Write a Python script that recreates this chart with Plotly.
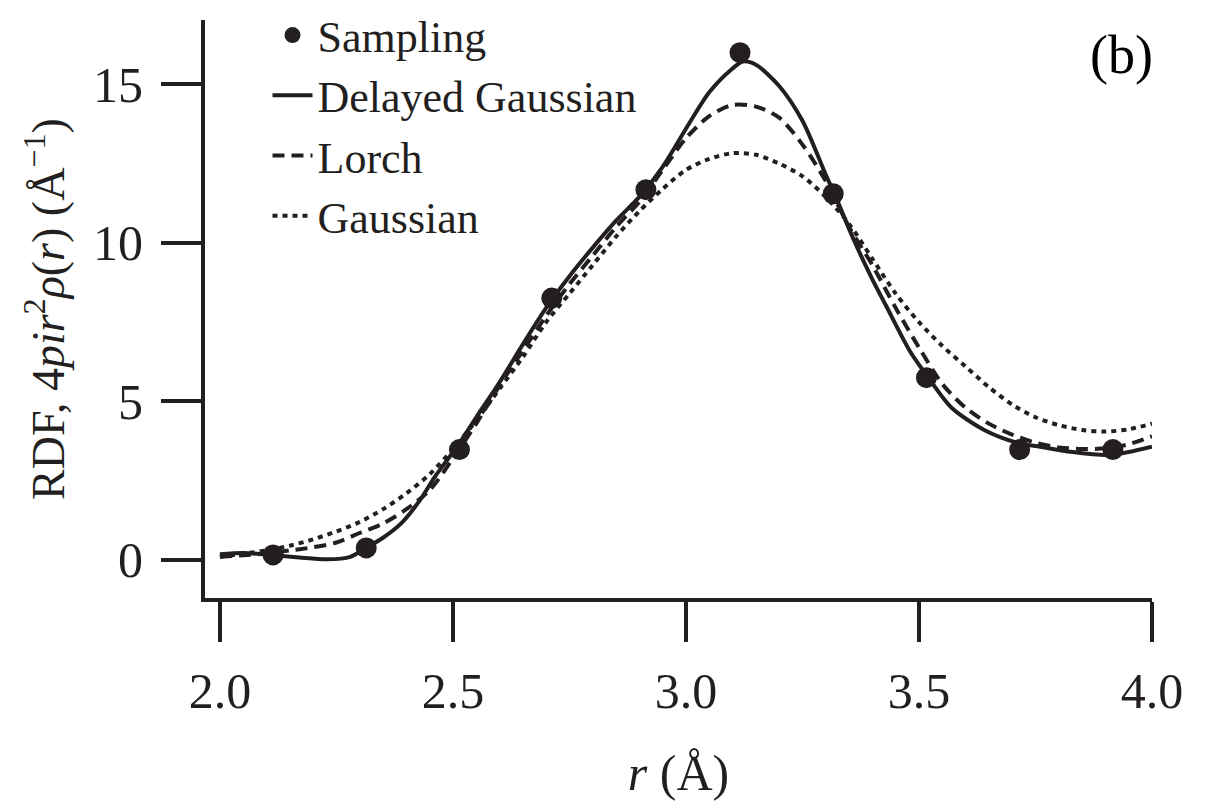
import plotly.graph_objects as go

# Sampling points
r_samp = [2.114, 2.314, 2.514, 2.712, 2.914, 3.116, 3.316, 3.516, 3.716, 3.916]
v_samp = [0.16, 0.38, 3.48, 8.26, 11.68, 16.0, 11.55, 5.75, 3.48, 3.48]

# Delayed Gaussian (solid)
r_dg = [2.0, 2.05, 2.11, 2.17, 2.23, 2.28, 2.31, 2.35, 2.39, 2.43, 2.46, 2.51, 2.55, 2.6,
        2.65, 2.7, 2.75, 2.8, 2.85, 2.9, 2.95, 3.0, 3.05, 3.1, 3.122, 3.15, 3.2, 3.25,
        3.3, 3.32, 3.36, 3.4, 3.43, 3.48, 3.52, 3.57, 3.64, 3.71, 3.76, 3.82, 3.91, 4.0]
v_dg = [0.18, 0.22, 0.16, 0.08, 0.02, 0.1, 0.35, 0.7, 1.17, 1.9, 2.6, 3.6, 4.5, 5.6,
        6.8, 7.95, 8.95, 9.85, 10.7, 11.45, 12.4, 13.6, 14.75, 15.5, 15.72, 15.62, 14.95, 13.85,
        12.15, 11.5, 10.1, 8.85, 8.0, 6.6, 5.75, 4.8, 4.1, 3.7, 3.57, 3.42, 3.31, 3.57]

# Lorch (dashed)
r_lo = [2.0, 2.05, 2.1, 2.15, 2.2, 2.25, 2.3, 2.35, 2.4, 2.45, 2.5, 2.55, 2.6, 2.65, 2.7,
        2.75, 2.8, 2.85, 2.9, 2.95, 3.0, 3.05, 3.1, 3.15, 3.2, 3.25, 3.3, 3.35, 3.4, 3.45,
        3.5, 3.55, 3.6, 3.65, 3.7, 3.75, 3.8, 3.85, 3.9, 3.95, 4.0]
v_lo = [0.1, 0.15, 0.2, 0.3, 0.4, 0.55, 0.85, 1.15, 1.6, 2.2, 3.2, 4.3, 5.5, 6.6, 7.7,
        8.7, 9.6, 10.5, 11.3, 12.3, 13.3, 14.0, 14.35, 14.3, 13.95, 13.1, 11.95, 10.5, 9.3, 7.95,
        6.7, 5.55, 4.8, 4.3, 3.95, 3.7, 3.55, 3.5, 3.52, 3.65, 3.9]

# Gaussian (dotted)
r_ga = [2.0, 2.05, 2.1, 2.15, 2.2, 2.25, 2.3, 2.35, 2.4, 2.45, 2.5, 2.55, 2.6, 2.65, 2.7,
        2.75, 2.8, 2.85, 2.9, 2.95, 3.0, 3.05, 3.1, 3.15, 3.2, 3.25, 3.3, 3.35, 3.4, 3.45,
        3.5, 3.55, 3.6, 3.65, 3.7, 3.75, 3.8, 3.85, 3.9, 3.95, 4.0]
v_ga = [0.1, 0.2, 0.3, 0.45, 0.65, 0.9, 1.2, 1.6, 2.1, 2.7, 3.5, 4.4, 5.4, 6.4, 7.5,
        8.4, 9.3, 10.2, 11.0, 11.7, 12.3, 12.65, 12.83, 12.78, 12.5, 12.1, 11.45, 10.6, 9.5, 8.4,
        7.5, 6.75, 6.1, 5.45, 4.9, 4.5, 4.25, 4.1, 4.05, 4.12, 4.3]

x_ticks = [2.0, 2.5, 3.0, 3.5, 4.0]
x_ticklabels = ["2.0", "2.5", "3.0", "3.5", "4.0"]
y_ticks = [0, 5, 10, 15]

INK = "#231f20"
FONT = "Liberation Serif"

fig = go.Figure()
fig.add_trace(go.Scatter(x=r_samp, y=v_samp, mode="markers", name="Sampling",
                         marker=dict(size=21, color=INK)))
fig.add_trace(go.Scatter(x=r_dg, y=v_dg, mode="lines", name="Delayed Gaussian",
                         line=dict(color=INK, width=4, shape="spline", smoothing=0.8)))
fig.add_trace(go.Scatter(x=r_lo, y=v_lo, mode="lines", name="Lorch",
                         line=dict(color=INK, width=4, dash="12px,7px", shape="spline", smoothing=0.8)))
fig.add_trace(go.Scatter(x=r_ga, y=v_ga, mode="lines", name="Gaussian",
                         line=dict(color=INK, width=4, dash="5px,5px", shape="spline", smoothing=0.8)))

fig.update_layout(
    width=1211, height=803,
    margin=dict(l=205, r=59, t=20, b=205, autoexpand=False),
    paper_bgcolor="white", plot_bgcolor="white",
    font=dict(family=FONT, size=48, color=INK),
    showlegend=True,
    legend=dict(x=0.066, y=1.012, xanchor="left", yanchor="top", yref="container",
                bgcolor="rgba(0,0,0,0)", font=dict(size=44, family=FONT, color=INK),
                itemwidth=40, tracegroupgap=0),
    annotations=[dict(text="(b)", x=1.003, y=0.995, xref="paper", yref="paper",
                      xanchor="right", yanchor="top", showarrow=False,
                      font=dict(size=54, family=FONT, color="black"))],
)
fig.update_xaxes(
    range=[1.968, 4.0], tickvals=x_ticks, ticktext=x_ticklabels,
    showline=True, linewidth=4, linecolor=INK, ticks="outside", ticklen=40, tickwidth=3.5,
    tickcolor=INK, showgrid=False, zeroline=False, ticklabelstandoff=6, automargin=False,
    tickfont=dict(size=50, family=FONT, color=INK),
    title=dict(text="<i>r</i> (Å)", font=dict(size=50, family=FONT, color=INK), standoff=38),
)
fig.update_yaxes(
    range=[-1.2, 17.03], tickvals=y_ticks, automargin=False,
    showline=True, linewidth=4, linecolor=INK, ticks="outside", ticklen=40, tickwidth=3.5,
    tickcolor=INK, showgrid=False, zeroline=False, ticklabelstandoff=8,
    tickfont=dict(size=50, family=FONT, color=INK),
    title=dict(text="RDF, 4<i>pir</i><sup>2</sup><i>ρ</i>(<i>r</i>) (Å<sup>−1</sup>)",
               font=dict(size=46, family=FONT, color=INK)),
)

fig.write_html("out.html")
